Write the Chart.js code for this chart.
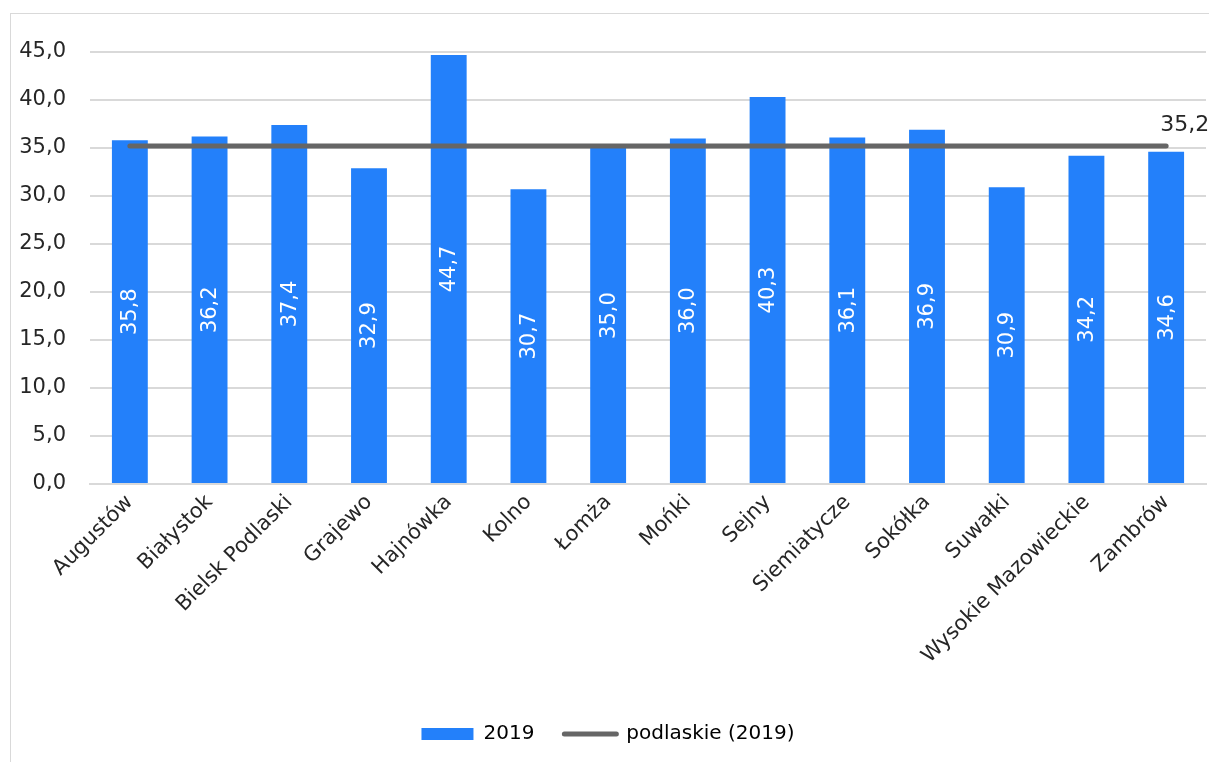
<!DOCTYPE html>
<html>
<head>
<meta charset="utf-8">
<script src="https://cdn.jsdelivr.net/npm/chart.js@4/dist/chart.umd.min.js"></script>
<style>
  html, body { margin: 0; padding: 0; background: #fff; }
  #wrap { position: relative; width: 1209px; height: 762px; overflow: hidden; }
  #frame { position: absolute; left: 10px; top: 13px; width: 1300px; height: 900px; border: 1.5px solid #d9d9d9; box-sizing: border-box; }
  canvas { position: absolute; left: 0; top: 0; }
</style>
</head>
<body>
<div id="wrap">
  <div id="frame"></div>
  <canvas id="c" width="1209" height="762"></canvas>
</div>
<script>
const categories = ["Augustów","Białystok","Bielsk Podlaski","Grajewo","Hajnówka","Kolno","Łomża","Mońki","Sejny","Siemiatycze","Sokółka","Suwałki","Wysokie Mazowieckie","Zambrów"];
const values2019 = [35.8, 36.2, 37.4, 32.9, 44.7, 30.7, 35.0, 36.0, 40.3, 36.1, 36.9, 30.9, 34.2, 34.6];
const podlaskie2019 = [35.2, 35.2, 35.2, 35.2, 35.2, 35.2, 35.2, 35.2, 35.2, 35.2, 35.2, 35.2, 35.2, 35.2];
const yTicks = [0, 5, 10, 15, 20, 25, 30, 35, 40, 45];

const FONT = "'DejaVu Sans', sans-serif";
const fmt = v => v.toFixed(1).replace('.', ',');

const labelsPlugin = {
  id: 'valueLabels',
  afterDatasetsDraw(chart) {
    const ctx = chart.ctx;
    const barMeta = chart.getDatasetMeta(1);
    ctx.save();
    ctx.font = "21px " + FONT;
    ctx.fillStyle = '#ffffff';
    ctx.textAlign = 'center';
    ctx.textBaseline = 'middle';
    barMeta.data.forEach((bar, i) => {
      const yMid = (bar.y + bar.base) / 2;
      ctx.save();
      ctx.translate(bar.x, yMid);
      ctx.rotate(-Math.PI / 2);
      ctx.fillText(fmt(values2019[i]), 0, 1);
      ctx.restore();
    });
    const lineMeta = chart.getDatasetMeta(0);
    const last = lineMeta.data[lineMeta.data.length - 1];
    ctx.fillStyle = '#262626';
    ctx.textAlign = 'left';
    ctx.font = "22px " + FONT;
    ctx.fillText(fmt(podlaskie2019[podlaskie2019.length - 1]), last.x - 6, last.y - 21);
    ctx.restore();
  }
};

new Chart(document.getElementById('c'), {
  data: {
    labels: categories,
    datasets: [
      {
        type: 'line',
        label: 'podlaskie (2019)',
        data: podlaskie2019,
        borderColor: '#666666',
        backgroundColor: '#666666',
        borderWidth: 5,
        borderCapStyle: 'round',
        pointRadius: 0,
        tension: 0,
        order: 0
      },
      {
        type: 'bar',
        label: '2019',
        data: values2019,
        backgroundColor: '#2380FA',
        borderWidth: 0,
        categoryPercentage: 1,
        barPercentage: 0.45,
        order: 1
      }
    ]
  },
  options: {
    responsive: false,
    animation: false,
    layout: { padding: { left: 10, right: 3, top: 52, bottom: 8 } },
    scales: {
      x: {
        grid: { display: false, drawTicks: false },
        border: { display: true, color: '#d9d9d9', width: 2 },
        ticks: {
          font: { family: FONT, size: 21 },
          color: '#262626',
          minRotation: 45,
          maxRotation: 45,
          padding: 6
        },
        afterFit(s) { s.height = 210; }
      },
      y: {
        min: 0,
        max: 45,
        afterBuildTicks(s) { s.ticks = yTicks.map(v => ({ value: v })); },
        grid: { color: '#d9d9d9', lineWidth: 2, drawTicks: false },
        border: { display: false },
        ticks: {
          font: { family: FONT, size: 21 },
          color: '#262626',
          padding: 24,
          callback: v => fmt(v)
        },
        afterFit(s) { s.width = 80; }
      }
    },
    plugins: {
      legend: {
        position: 'bottom',
        labels: {
          font: { family: FONT, size: 20 },
          color: '#262626',
          usePointStyle: true,
          pointStyleWidth: 52,
          boxHeight: 12,
          padding: 30,
          generateLabels(chart) {
            return [
              { text: '2019', fillStyle: '#2380FA', strokeStyle: '#2380FA', lineWidth: 0, pointStyle: 'rect', datasetIndex: 1 },
              { text: 'podlaskie (2019)', fillStyle: '#666666', strokeStyle: '#666666', lineWidth: 5, lineCap: 'round', pointStyle: 'line', datasetIndex: 0 }
            ];
          }
        }
      },
      tooltip: { enabled: false }
    }
  },
  plugins: [labelsPlugin]
});
</script>
</body>
</html>
